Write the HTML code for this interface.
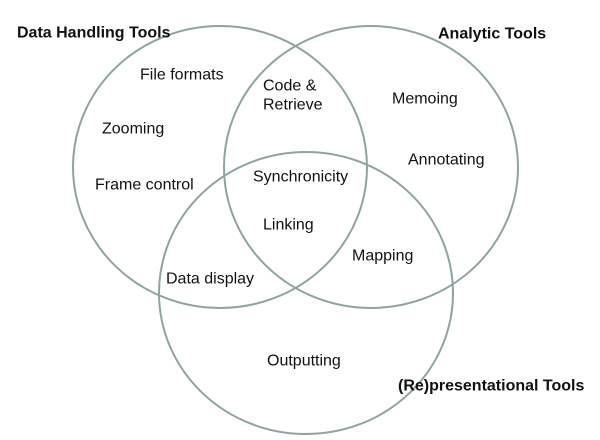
<!DOCTYPE html>
<html><head><meta charset="utf-8"><style>
html,body{margin:0;padding:0;background:#fff;}
svg{display:block;}
text{font-family:"Liberation Sans",Arial,sans-serif;font-size:16px;fill:#111;dominant-baseline:central;}
.b{font-weight:bold;font-size:16px;}
</style></head><body>
<svg width="600" height="440" viewBox="0 0 600 440">
<g fill="none" stroke="#8fa3a3" stroke-width="2">
<ellipse cx="220" cy="167" rx="147" ry="141"/>
<ellipse cx="371" cy="167" rx="147" ry="141"/>
<ellipse cx="306" cy="293" rx="147" ry="141"/>
</g>
<text class="b" x="17" y="33">Data Handling Tools</text>
<text class="b" x="438" y="34">Analytic Tools</text>
<text x="140" y="75">File formats</text>
<text x="263" y="86">Code &amp;</text>
<text x="263" y="105">Retrieve</text>
<text x="392" y="99">Memoing</text>
<text x="102" y="129">Zooming</text>
<text x="408" y="160">Annotating</text>
<text x="253" y="177">Synchronicity</text>
<text x="95" y="185">Frame control</text>
<text x="263" y="225">Linking</text>
<text x="352" y="256">Mapping</text>
<text x="166" y="279">Data display</text>
<text x="267" y="361">Outputting</text>
<text class="b" x="398" y="386">(Re)presentational Tools</text>
</svg>
</body></html>
